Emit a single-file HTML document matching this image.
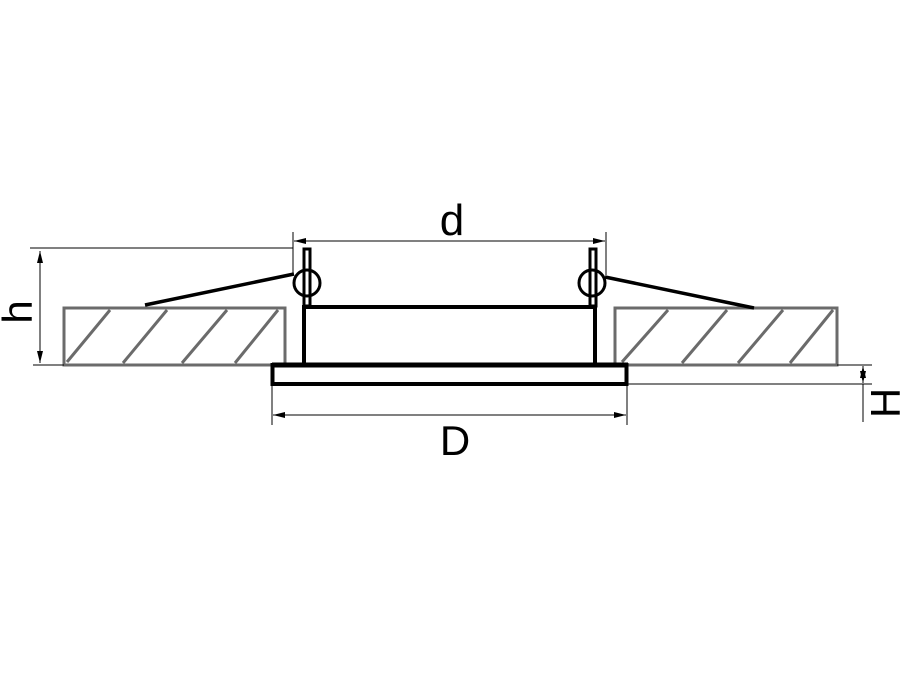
<!DOCTYPE html>
<html><head><meta charset="utf-8"><style>
html,body{margin:0;padding:0;background:#fff;}
svg{display:block;}
text{font-family:"Liberation Sans",sans-serif;fill:#000;}
</style></head><body>
<svg width="900" height="675" viewBox="0 0 900 675" xmlns="http://www.w3.org/2000/svg">
<defs>
<marker id="a" markerWidth="12" markerHeight="6" refX="12" refY="3" orient="auto" markerUnits="userSpaceOnUse">
<path d="M0,0 L12,3 L0,6 Z" fill="#000"/></marker>
</defs>
<rect width="900" height="675" fill="#fff"/>
<!-- panels -->
<g stroke="#6b6b6b" stroke-width="3" fill="none">
<rect x="64" y="308" width="221" height="57"/>
<rect x="615" y="308" width="222" height="57"/>
<line x1="67" y1="362" x2="110" y2="310"/>
<line x1="123" y1="363" x2="167" y2="310"/>
<line x1="182" y1="363" x2="227" y2="310"/>
<line x1="235" y1="363" x2="278" y2="310"/>
<line x1="622" y1="362" x2="668" y2="310"/>
<line x1="682" y1="363" x2="727" y2="310"/>
<line x1="738" y1="363" x2="783" y2="310"/>
<line x1="790" y1="363" x2="833" y2="310"/>
</g>
<!-- fixture -->
<g stroke="#000" fill="none">
<line x1="303" y1="307" x2="597" y2="307" stroke-width="4"/>
<line x1="304" y1="305" x2="304" y2="364" stroke-width="4"/>
<line x1="595" y1="305" x2="595" y2="364" stroke-width="4"/>
<rect x="304" y="249" width="6" height="57" stroke-width="3"/>
<rect x="590" y="249" width="6" height="57" stroke-width="3"/>
<circle cx="307" cy="283" r="13" stroke-width="3"/>
<circle cx="592" cy="283" r="13" stroke-width="3"/>
<line x1="145" y1="305" x2="294" y2="274" stroke-width="3.5"/>
<line x1="605" y1="277" x2="754" y2="308" stroke-width="3.5"/>
<rect x="272.5" y="365" width="354" height="19" stroke-width="4"/>
<line x1="272" y1="365" x2="628" y2="365" stroke-width="5"/>
</g>
<!-- dimensions -->
<g stroke="#000" stroke-width="1" fill="none">
<line x1="30" y1="248" x2="293" y2="248"/>
<line x1="33" y1="365" x2="64" y2="365"/>
<line x1="40" y1="262" x2="40" y2="251" marker-end="url(#a)"/>
<line x1="40" y1="262" x2="40" y2="363" marker-end="url(#a)"/>
<line x1="293" y1="232" x2="293" y2="275"/>
<line x1="606" y1="232" x2="606" y2="275"/>
<line x1="450" y1="241" x2="294" y2="241" marker-end="url(#a)"/>
<line x1="450" y1="241" x2="605" y2="241" marker-end="url(#a)"/>
<line x1="272" y1="386" x2="272" y2="425"/>
<line x1="627" y1="386" x2="627" y2="425"/>
<line x1="450" y1="415" x2="273" y2="415" marker-end="url(#a)"/>
<line x1="450" y1="415" x2="626" y2="415" marker-end="url(#a)"/>
<line x1="837" y1="365" x2="872" y2="365"/>
<line x1="628" y1="384" x2="872" y2="384"/>
<line x1="863" y1="374" x2="863" y2="366" marker-end="url(#a)"/>
<line x1="863" y1="374" x2="863" y2="383" marker-end="url(#a)"/>
<line x1="863" y1="384" x2="863" y2="422"/>
</g>
<text x="452" y="235" font-size="44" text-anchor="middle">d</text>
<text x="455" y="455" font-size="42" text-anchor="middle">D</text>
<text transform="translate(32,312) rotate(-90)" font-size="42" text-anchor="middle">h</text>
<text transform="translate(900,403) rotate(-90)" font-size="42" text-anchor="middle">H</text>
</svg>
</body></html>
